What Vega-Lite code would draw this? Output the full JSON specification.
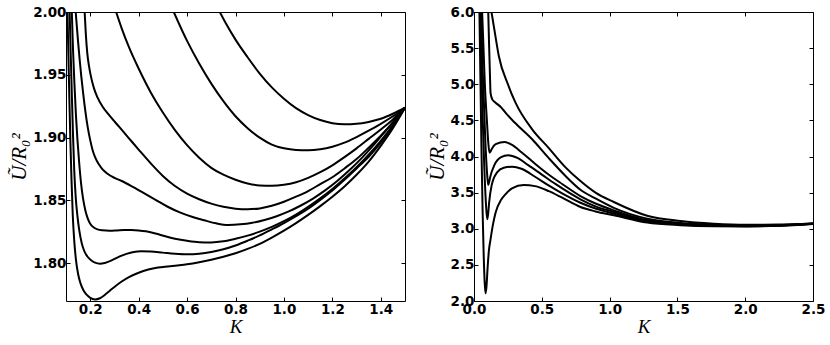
{
"$schema": "https://vega.github.io/schema/vega-lite/v6.json",
"background": "white",
"padding": {"left": 8, "top": 4, "right": 5, "bottom": 5},
"spacing": 69,
"bounds": "flush",
"config": {
  "view": {"stroke": "black", "strokeWidth": 1},
  "axis": {"domain": false, "grid": false, "tickColor": "black", "tickSize": -4, "tickWidth": 1,
    "labelFont": "DejaVu Sans", "labelFontWeight": "bold", "labelFontSize": 13.5, "labelColor": "black",
    "labelOverlap": false, "labelFlush": false, "labelBound": false,
    "titleFont": "Liberation Serif", "titleFontStyle": "italic", "titleFontWeight": "normal", "titleFontSize": 20, "titleColor": "black"}
},
"datasets": {
"left": [
{"c":"c1","K":0.106,"U":2.0},{"c":"c1","K":0.110,"U":1.965},{"c":"c1","K":0.114,"U":1.93},{"c":"c1","K":0.118,"U":1.898},{"c":"c1","K":0.123,"U":1.865},{"c":"c1","K":0.128,"U":1.838},{"c":"c1","K":0.134,"U":1.818},{"c":"c1","K":0.141,"U":1.803},{"c":"c1","K":0.150,"U":1.7915},{"c":"c1","K":0.160,"U":1.784},{"c":"c1","K":0.172,"U":1.7785},{"c":"c1","K":0.185,"U":1.775},{"c":"c1","K":0.20,"U":1.7725},{"c":"c1","K":0.22,"U":1.7712},{"c":"c1","K":0.24,"U":1.7722},{"c":"c1","K":0.26,"U":1.7748},{"c":"c1","K":0.28,"U":1.778},{"c":"c1","K":0.30,"U":1.7812},{"c":"c1","K":0.33,"U":1.7855},{"c":"c1","K":0.36,"U":1.789},{"c":"c1","K":0.40,"U":1.7925},{"c":"c1","K":0.44,"U":1.795},{"c":"c1","K":0.48,"U":1.7966},{"c":"c1","K":0.52,"U":1.7975},{"c":"c1","K":0.56,"U":1.7983},{"c":"c1","K":0.60,"U":1.7992},{"c":"c1","K":0.65,"U":1.8008},{"c":"c1","K":0.70,"U":1.8028},{"c":"c1","K":0.75,"U":1.8052},{"c":"c1","K":0.80,"U":1.808},{"c":"c1","K":0.85,"U":1.8115},{"c":"c1","K":0.90,"U":1.8155},{"c":"c1","K":0.95,"U":1.8205},{"c":"c1","K":1.00,"U":1.826},{"c":"c1","K":1.05,"U":1.832},{"c":"c1","K":1.10,"U":1.8385},{"c":"c1","K":1.15,"U":1.8455},{"c":"c1","K":1.20,"U":1.853},{"c":"c1","K":1.25,"U":1.8612},{"c":"c1","K":1.30,"U":1.8705},{"c":"c1","K":1.35,"U":1.881},{"c":"c1","K":1.40,"U":1.8935},{"c":"c1","K":1.45,"U":1.9075},{"c":"c1","K":1.50,"U":1.9238},
{"c":"c2","K":0.115,"U":2.0},{"c":"c2","K":0.119,"U":1.97},{"c":"c2","K":0.124,"U":1.935},{"c":"c2","K":0.129,"U":1.902},{"c":"c2","K":0.134,"U":1.874},{"c":"c2","K":0.140,"U":1.853},{"c":"c2","K":0.147,"U":1.838},{"c":"c2","K":0.155,"U":1.826},{"c":"c2","K":0.165,"U":1.816},{"c":"c2","K":0.175,"U":1.810},{"c":"c2","K":0.19,"U":1.805},{"c":"c2","K":0.205,"U":1.8022},{"c":"c2","K":0.22,"U":1.8005},{"c":"c2","K":0.24,"U":1.7997},{"c":"c2","K":0.26,"U":1.8003},{"c":"c2","K":0.29,"U":1.8025},{"c":"c2","K":0.32,"U":1.8053},{"c":"c2","K":0.35,"U":1.8075},{"c":"c2","K":0.38,"U":1.809},{"c":"c2","K":0.41,"U":1.8095},{"c":"c2","K":0.45,"U":1.8093},{"c":"c2","K":0.50,"U":1.8085},{"c":"c2","K":0.55,"U":1.8077},{"c":"c2","K":0.60,"U":1.8073},{"c":"c2","K":0.65,"U":1.8077},{"c":"c2","K":0.70,"U":1.809},{"c":"c2","K":0.75,"U":1.8112},{"c":"c2","K":0.80,"U":1.8142},{"c":"c2","K":0.85,"U":1.818},{"c":"c2","K":0.90,"U":1.8222},{"c":"c2","K":0.95,"U":1.827},{"c":"c2","K":1.00,"U":1.832},{"c":"c2","K":1.05,"U":1.8375},{"c":"c2","K":1.10,"U":1.8435},{"c":"c2","K":1.15,"U":1.8505},{"c":"c2","K":1.20,"U":1.858},{"c":"c2","K":1.25,"U":1.8665},{"c":"c2","K":1.30,"U":1.8755},{"c":"c2","K":1.35,"U":1.8848},{"c":"c2","K":1.40,"U":1.896},{"c":"c2","K":1.45,"U":1.9092},{"c":"c2","K":1.50,"U":1.9238},
{"c":"c3","K":0.124,"U":2.0},{"c":"c3","K":0.129,"U":1.97},{"c":"c3","K":0.135,"U":1.942},{"c":"c3","K":0.141,"U":1.918},{"c":"c3","K":0.147,"U":1.899},{"c":"c3","K":0.154,"U":1.881},{"c":"c3","K":0.162,"U":1.864},{"c":"c3","K":0.170,"U":1.852},{"c":"c3","K":0.180,"U":1.842},{"c":"c3","K":0.19,"U":1.8355},{"c":"c3","K":0.20,"U":1.8315},{"c":"c3","K":0.215,"U":1.8285},{"c":"c3","K":0.23,"U":1.827},{"c":"c3","K":0.25,"U":1.8263},{"c":"c3","K":0.28,"U":1.826},{"c":"c3","K":0.31,"U":1.8262},{"c":"c3","K":0.34,"U":1.8265},{"c":"c3","K":0.37,"U":1.8265},{"c":"c3","K":0.40,"U":1.8262},{"c":"c3","K":0.43,"U":1.8255},{"c":"c3","K":0.47,"U":1.8237},{"c":"c3","K":0.51,"U":1.8215},{"c":"c3","K":0.55,"U":1.8196},{"c":"c3","K":0.60,"U":1.8179},{"c":"c3","K":0.65,"U":1.8168},{"c":"c3","K":0.70,"U":1.8166},{"c":"c3","K":0.75,"U":1.8175},{"c":"c3","K":0.80,"U":1.8195},{"c":"c3","K":0.85,"U":1.822},{"c":"c3","K":0.90,"U":1.8252},{"c":"c3","K":0.95,"U":1.829},{"c":"c3","K":1.00,"U":1.8335},{"c":"c3","K":1.05,"U":1.8388},{"c":"c3","K":1.10,"U":1.845},{"c":"c3","K":1.15,"U":1.8518},{"c":"c3","K":1.20,"U":1.8592},{"c":"c3","K":1.25,"U":1.8675},{"c":"c3","K":1.30,"U":1.8765},{"c":"c3","K":1.35,"U":1.8865},{"c":"c3","K":1.40,"U":1.8975},{"c":"c3","K":1.45,"U":1.9098},{"c":"c3","K":1.50,"U":1.9238},
{"c":"c4","K":0.140,"U":2.0},{"c":"c4","K":0.145,"U":1.988},{"c":"c4","K":0.150,"U":1.976},{"c":"c4","K":0.156,"U":1.963},{"c":"c4","K":0.163,"U":1.949},{"c":"c4","K":0.171,"U":1.935},{"c":"c4","K":0.180,"U":1.921},{"c":"c4","K":0.190,"U":1.908},{"c":"c4","K":0.20,"U":1.898},{"c":"c4","K":0.21,"U":1.890},{"c":"c4","K":0.22,"U":1.8845},{"c":"c4","K":0.235,"U":1.879},{"c":"c4","K":0.25,"U":1.875},{"c":"c4","K":0.27,"U":1.8715},{"c":"c4","K":0.30,"U":1.868},{"c":"c4","K":0.33,"U":1.8655},{"c":"c4","K":0.37,"U":1.8615},{"c":"c4","K":0.42,"U":1.856},{"c":"c4","K":0.47,"U":1.8505},{"c":"c4","K":0.52,"U":1.845},{"c":"c4","K":0.57,"U":1.8405},{"c":"c4","K":0.62,"U":1.837},{"c":"c4","K":0.67,"U":1.8343},{"c":"c4","K":0.72,"U":1.8318},{"c":"c4","K":0.77,"U":1.8305},{"c":"c4","K":0.82,"U":1.831},{"c":"c4","K":0.87,"U":1.8323},{"c":"c4","K":0.92,"U":1.8345},{"c":"c4","K":0.97,"U":1.8375},{"c":"c4","K":1.02,"U":1.8413},{"c":"c4","K":1.07,"U":1.846},{"c":"c4","K":1.12,"U":1.8515},{"c":"c4","K":1.17,"U":1.858},{"c":"c4","K":1.22,"U":1.8655},{"c":"c4","K":1.27,"U":1.874},{"c":"c4","K":1.32,"U":1.8835},{"c":"c4","K":1.37,"U":1.894},{"c":"c4","K":1.42,"U":1.9055},{"c":"c4","K":1.46,"U":1.9145},{"c":"c4","K":1.50,"U":1.9238},
{"c":"c5","K":0.177,"U":2.0},{"c":"c5","K":0.182,"U":1.982},{"c":"c5","K":0.188,"U":1.967},{"c":"c5","K":0.195,"U":1.957},{"c":"c5","K":0.205,"U":1.947},{"c":"c5","K":0.216,"U":1.939},{"c":"c5","K":0.23,"U":1.932},{"c":"c5","K":0.25,"U":1.925},{"c":"c5","K":0.28,"U":1.9175},{"c":"c5","K":0.32,"U":1.9085},{"c":"c5","K":0.36,"U":1.8995},{"c":"c5","K":0.40,"U":1.8905},{"c":"c5","K":0.45,"U":1.8795},{"c":"c5","K":0.50,"U":1.8695},{"c":"c5","K":0.55,"U":1.8615},{"c":"c5","K":0.60,"U":1.8555},{"c":"c5","K":0.65,"U":1.851},{"c":"c5","K":0.70,"U":1.8475},{"c":"c5","K":0.75,"U":1.845},{"c":"c5","K":0.80,"U":1.8435},{"c":"c5","K":0.85,"U":1.843},{"c":"c5","K":0.90,"U":1.8437},{"c":"c5","K":0.95,"U":1.8458},{"c":"c5","K":1.00,"U":1.849},{"c":"c5","K":1.05,"U":1.853},{"c":"c5","K":1.10,"U":1.8575},{"c":"c5","K":1.15,"U":1.863},{"c":"c5","K":1.20,"U":1.8685},{"c":"c5","K":1.25,"U":1.8755},{"c":"c5","K":1.30,"U":1.883},{"c":"c5","K":1.35,"U":1.892},{"c":"c5","K":1.40,"U":1.9015},{"c":"c5","K":1.45,"U":1.912},{"c":"c5","K":1.50,"U":1.9238},
{"c":"c6","K":0.307,"U":2.0},{"c":"c6","K":0.33,"U":1.987},{"c":"c6","K":0.36,"U":1.972},{"c":"c6","K":0.40,"U":1.955},{"c":"c6","K":0.45,"U":1.936},{"c":"c6","K":0.50,"U":1.920},{"c":"c6","K":0.55,"U":1.906},{"c":"c6","K":0.60,"U":1.894},{"c":"c6","K":0.65,"U":1.884},{"c":"c6","K":0.70,"U":1.876},{"c":"c6","K":0.75,"U":1.8705},{"c":"c6","K":0.80,"U":1.8665},{"c":"c6","K":0.85,"U":1.8635},{"c":"c6","K":0.90,"U":1.862},{"c":"c6","K":0.95,"U":1.8617},{"c":"c6","K":1.00,"U":1.8625},{"c":"c6","K":1.05,"U":1.8645},{"c":"c6","K":1.10,"U":1.868},{"c":"c6","K":1.15,"U":1.8725},{"c":"c6","K":1.20,"U":1.878},{"c":"c6","K":1.25,"U":1.8845},{"c":"c6","K":1.30,"U":1.8915},{"c":"c6","K":1.35,"U":1.899},{"c":"c6","K":1.40,"U":1.9065},{"c":"c6","K":1.45,"U":1.9145},{"c":"c6","K":1.50,"U":1.9238},
{"c":"c7","K":0.545,"U":2.0},{"c":"c7","K":0.60,"U":1.977},{"c":"c7","K":0.65,"U":1.959},{"c":"c7","K":0.70,"U":1.943},{"c":"c7","K":0.75,"U":1.929},{"c":"c7","K":0.80,"U":1.917},{"c":"c7","K":0.85,"U":1.9075},{"c":"c7","K":0.90,"U":1.9},{"c":"c7","K":0.95,"U":1.8945},{"c":"c7","K":1.00,"U":1.8915},{"c":"c7","K":1.05,"U":1.8902},{"c":"c7","K":1.10,"U":1.89},{"c":"c7","K":1.15,"U":1.8908},{"c":"c7","K":1.20,"U":1.8928},{"c":"c7","K":1.25,"U":1.896},{"c":"c7","K":1.30,"U":1.9005},{"c":"c7","K":1.35,"U":1.9055},{"c":"c7","K":1.40,"U":1.911},{"c":"c7","K":1.45,"U":1.917},{"c":"c7","K":1.50,"U":1.9238},
{"c":"c8","K":0.735,"U":2.0},{"c":"c8","K":0.76,"U":1.991},{"c":"c8","K":0.80,"U":1.978},{"c":"c8","K":0.85,"U":1.964},{"c":"c8","K":0.90,"U":1.951},{"c":"c8","K":0.95,"U":1.940},{"c":"c8","K":1.00,"U":1.931},{"c":"c8","K":1.05,"U":1.9235},{"c":"c8","K":1.10,"U":1.918},{"c":"c8","K":1.15,"U":1.914},{"c":"c8","K":1.20,"U":1.9115},{"c":"c8","K":1.25,"U":1.9106},{"c":"c8","K":1.30,"U":1.911},{"c":"c8","K":1.35,"U":1.9125},{"c":"c8","K":1.40,"U":1.915},{"c":"c8","K":1.45,"U":1.919},{"c":"c8","K":1.50,"U":1.9238}
],
"right": [
{"c":"A","K":0.040,"U":6.0},{"c":"A","K":0.048,"U":5.0},{"c":"A","K":0.056,"U":4.0},{"c":"A","K":0.064,"U":3.2},{"c":"A","K":0.072,"U":2.6},{"c":"A","K":0.079,"U":2.25},{"c":"A","K":0.085,"U":2.107},{"c":"A","K":0.092,"U":2.2},{"c":"A","K":0.10,"U":2.45},{"c":"A","K":0.11,"U":2.7},{"c":"A","K":0.122,"U":2.854},{"c":"A","K":0.14,"U":3.06},{"c":"A","K":0.159,"U":3.222},{"c":"A","K":0.20,"U":3.40},{"c":"A","K":0.232,"U":3.477},{"c":"A","K":0.28,"U":3.56},{"c":"A","K":0.367,"U":3.606},{"c":"A","K":0.45,"U":3.59},{"c":"A","K":0.552,"U":3.52},{"c":"A","K":0.65,"U":3.43},{"c":"A","K":0.785,"U":3.301},{"c":"A","K":0.896,"U":3.24},{"c":"A","K":1.031,"U":3.186},{"c":"A","K":1.277,"U":3.085},{"c":"A","K":1.523,"U":3.05},{"c":"A","K":1.768,"U":3.035},{"c":"A","K":2.014,"U":3.032},{"c":"A","K":2.25,"U":3.04},{"c":"A","K":2.5,"U":3.066},
{"c":"B","K":0.047,"U":6.0},{"c":"B","K":0.055,"U":5.2},{"c":"B","K":0.063,"U":4.6},{"c":"B","K":0.075,"U":3.9},{"c":"B","K":0.088,"U":3.35},{"c":"B","K":0.097,"U":3.131},{"c":"B","K":0.104,"U":3.2},{"c":"B","K":0.112,"U":3.37},{"c":"B","K":0.13,"U":3.6},{"c":"B","K":0.17,"U":3.78},{"c":"B","K":0.22,"U":3.845},{"c":"B","K":0.282,"U":3.859},{"c":"B","K":0.35,"U":3.83},{"c":"B","K":0.45,"U":3.72},{"c":"B","K":0.55,"U":3.6},{"c":"B","K":0.65,"U":3.49},{"c":"B","K":0.785,"U":3.36},{"c":"B","K":0.896,"U":3.28},{"c":"B","K":1.031,"U":3.21},{"c":"B","K":1.277,"U":3.10},{"c":"B","K":1.523,"U":3.06},{"c":"B","K":1.768,"U":3.04},{"c":"B","K":2.014,"U":3.035},{"c":"B","K":2.25,"U":3.043},{"c":"B","K":2.5,"U":3.068},
{"c":"C","K":0.053,"U":6.0},{"c":"C","K":0.062,"U":5.3},{"c":"C","K":0.07,"U":4.9},{"c":"C","K":0.085,"U":4.15},{"c":"C","K":0.097,"U":3.75},{"c":"C","K":0.105,"U":3.606},{"c":"C","K":0.112,"U":3.65},{"c":"C","K":0.12,"U":3.72},{"c":"C","K":0.15,"U":3.88},{"c":"C","K":0.2,"U":3.99},{"c":"C","K":0.252,"U":4.016},{"c":"C","K":0.32,"U":3.98},{"c":"C","K":0.4,"U":3.88},{"c":"C","K":0.5,"U":3.75},{"c":"C","K":0.6,"U":3.62},{"c":"C","K":0.785,"U":3.408},{"c":"C","K":0.896,"U":3.31},{"c":"C","K":1.031,"U":3.232},{"c":"C","K":1.277,"U":3.108},{"c":"C","K":1.523,"U":3.065},{"c":"C","K":1.768,"U":3.044},{"c":"C","K":2.014,"U":3.037},{"c":"C","K":2.25,"U":3.045},{"c":"C","K":2.5,"U":3.069},
{"c":"D","K":0.06,"U":6.0},{"c":"D","K":0.07,"U":5.5},{"c":"D","K":0.08,"U":5.0},{"c":"D","K":0.095,"U":4.5},{"c":"D","K":0.105,"U":4.2},{"c":"D","K":0.114,"U":4.053},{"c":"D","K":0.122,"U":4.07},{"c":"D","K":0.13,"U":4.1},{"c":"D","K":0.16,"U":4.17},{"c":"D","K":0.227,"U":4.20},{"c":"D","K":0.28,"U":4.16},{"c":"D","K":0.35,"U":4.06},{"c":"D","K":0.45,"U":3.9},{"c":"D","K":0.55,"U":3.75},{"c":"D","K":0.65,"U":3.62},{"c":"D","K":0.785,"U":3.453},{"c":"D","K":0.896,"U":3.35},{"c":"D","K":1.031,"U":3.255},{"c":"D","K":1.277,"U":3.12},{"c":"D","K":1.523,"U":3.07},{"c":"D","K":1.768,"U":3.048},{"c":"D","K":2.014,"U":3.04},{"c":"D","K":2.25,"U":3.047},{"c":"D","K":2.5,"U":3.07},
{"c":"E","K":0.105,"U":6.0},{"c":"E","K":0.112,"U":5.5},{"c":"E","K":0.118,"U":5.1},{"c":"E","K":0.122,"U":4.88},{"c":"E","K":0.135,"U":4.79},{"c":"E","K":0.159,"U":4.745},{"c":"E","K":0.2,"U":4.68},{"c":"E","K":0.232,"U":4.606},{"c":"E","K":0.3,"U":4.47},{"c":"E","K":0.429,"U":4.238},{"c":"E","K":0.55,"U":3.98},{"c":"E","K":0.675,"U":3.73},{"c":"E","K":0.785,"U":3.54},{"c":"E","K":0.896,"U":3.42},{"c":"E","K":1.031,"U":3.29},{"c":"E","K":1.277,"U":3.14},{"c":"E","K":1.523,"U":3.08},{"c":"E","K":1.768,"U":3.055},{"c":"E","K":2.014,"U":3.045},{"c":"E","K":2.25,"U":3.05},{"c":"E","K":2.5,"U":3.071},
{"c":"F","K":0.129,"U":6.0},{"c":"F","K":0.155,"U":5.7},{"c":"F","K":0.183,"U":5.391},{"c":"F","K":0.25,"U":5.0},{"c":"F","K":0.306,"U":4.745},{"c":"F","K":0.429,"U":4.376},{"c":"F","K":0.55,"U":4.12},{"c":"F","K":0.675,"U":3.85},{"c":"F","K":0.785,"U":3.66},{"c":"F","K":0.896,"U":3.5},{"c":"F","K":1.031,"U":3.37},{"c":"F","K":1.277,"U":3.18},{"c":"F","K":1.523,"U":3.107},{"c":"F","K":1.768,"U":3.07},{"c":"F","K":2.014,"U":3.055},{"c":"F","K":2.25,"U":3.058},{"c":"F","K":2.5,"U":3.072}
]
},
"hconcat": [
{
  "width": 339, "height": 289,
  "data": {"name": "left"},
  "resolve": {"scale": {"x": "independent", "y": "independent"}, "axis": {"x": "independent", "y": "independent"}},
  "layer": [
    {"mark": {"type": "line", "color": "black", "strokeWidth": 2, "clip": true, "interpolate": "monotone"},
     "encoding": {
       "x": {"field": "K", "type": "quantitative", "scale": {"domain": [0.1, 1.5], "nice": false, "zero": false},
             "axis": {"orient": "bottom", "values": [0.2, 0.4, 0.6, 0.8, 1.0, 1.2, 1.4], "format": ".1f", "title": "K", "labelPadding": 5, "titlePadding": 2, "titleFontSize": 19}},
       "y": {"field": "U", "type": "quantitative", "scale": {"domain": [1.77, 2.0], "nice": false, "zero": false},
             "axis": {"orient": "left", "values": [1.8, 1.85, 1.9, 1.95, 2.0], "format": ".2f", "title": "Ũ/R₀²", "labelPadding": 4, "titlePadding": 3, "titleFontSize": 21}},
       "detail": {"field": "c"}
     }},
    {"mark": {"type": "line", "opacity": 0},
     "encoding": {
       "x": {"field": "K", "type": "quantitative", "scale": {"domain": [0.1, 1.5], "nice": false, "zero": false},
             "axis": {"orient": "top", "values": [0.2, 0.4, 0.6, 0.8, 1.0, 1.2, 1.4], "labels": false, "title": null}},
       "y": {"field": "U", "type": "quantitative", "scale": {"domain": [1.77, 2.0], "nice": false, "zero": false},
             "axis": {"orient": "right", "values": [1.8, 1.85, 1.9, 1.95, 2.0], "labels": false, "title": null}},
       "detail": {"field": "c"}
     }}
  ]
},
{
  "width": 339, "height": 289,
  "data": {"name": "right"},
  "resolve": {"scale": {"x": "independent", "y": "independent"}, "axis": {"x": "independent", "y": "independent"}},
  "layer": [
    {"mark": {"type": "line", "color": "black", "strokeWidth": 2, "clip": true, "interpolate": "monotone"},
     "encoding": {
       "x": {"field": "K", "type": "quantitative", "scale": {"domain": [0, 2.5], "nice": false, "zero": false},
             "axis": {"orient": "bottom", "values": [0, 0.5, 1.0, 1.5, 2.0, 2.5], "format": ".1f", "title": "K", "labelPadding": 5, "titlePadding": 2, "titleFontSize": 19}},
       "y": {"field": "U", "type": "quantitative", "scale": {"domain": [2, 6], "nice": false, "zero": false},
             "axis": {"orient": "left", "values": [2, 2.5, 3, 3.5, 4, 4.5, 5, 5.5, 6], "format": ".1f", "title": "Ũ/R₀²", "labelPadding": 4, "titlePadding": 3, "titleFontSize": 21}},
       "detail": {"field": "c"}
     }},
    {"mark": {"type": "line", "opacity": 0},
     "encoding": {
       "x": {"field": "K", "type": "quantitative", "scale": {"domain": [0, 2.5], "nice": false, "zero": false},
             "axis": {"orient": "top", "values": [0, 0.5, 1.0, 1.5, 2.0, 2.5], "labels": false, "title": null}},
       "y": {"field": "U", "type": "quantitative", "scale": {"domain": [2, 6], "nice": false, "zero": false},
             "axis": {"orient": "right", "values": [2, 2.5, 3, 3.5, 4, 4.5, 5, 5.5, 6], "labels": false, "title": null}},
       "detail": {"field": "c"}
     }}
  ]
}
]
}
